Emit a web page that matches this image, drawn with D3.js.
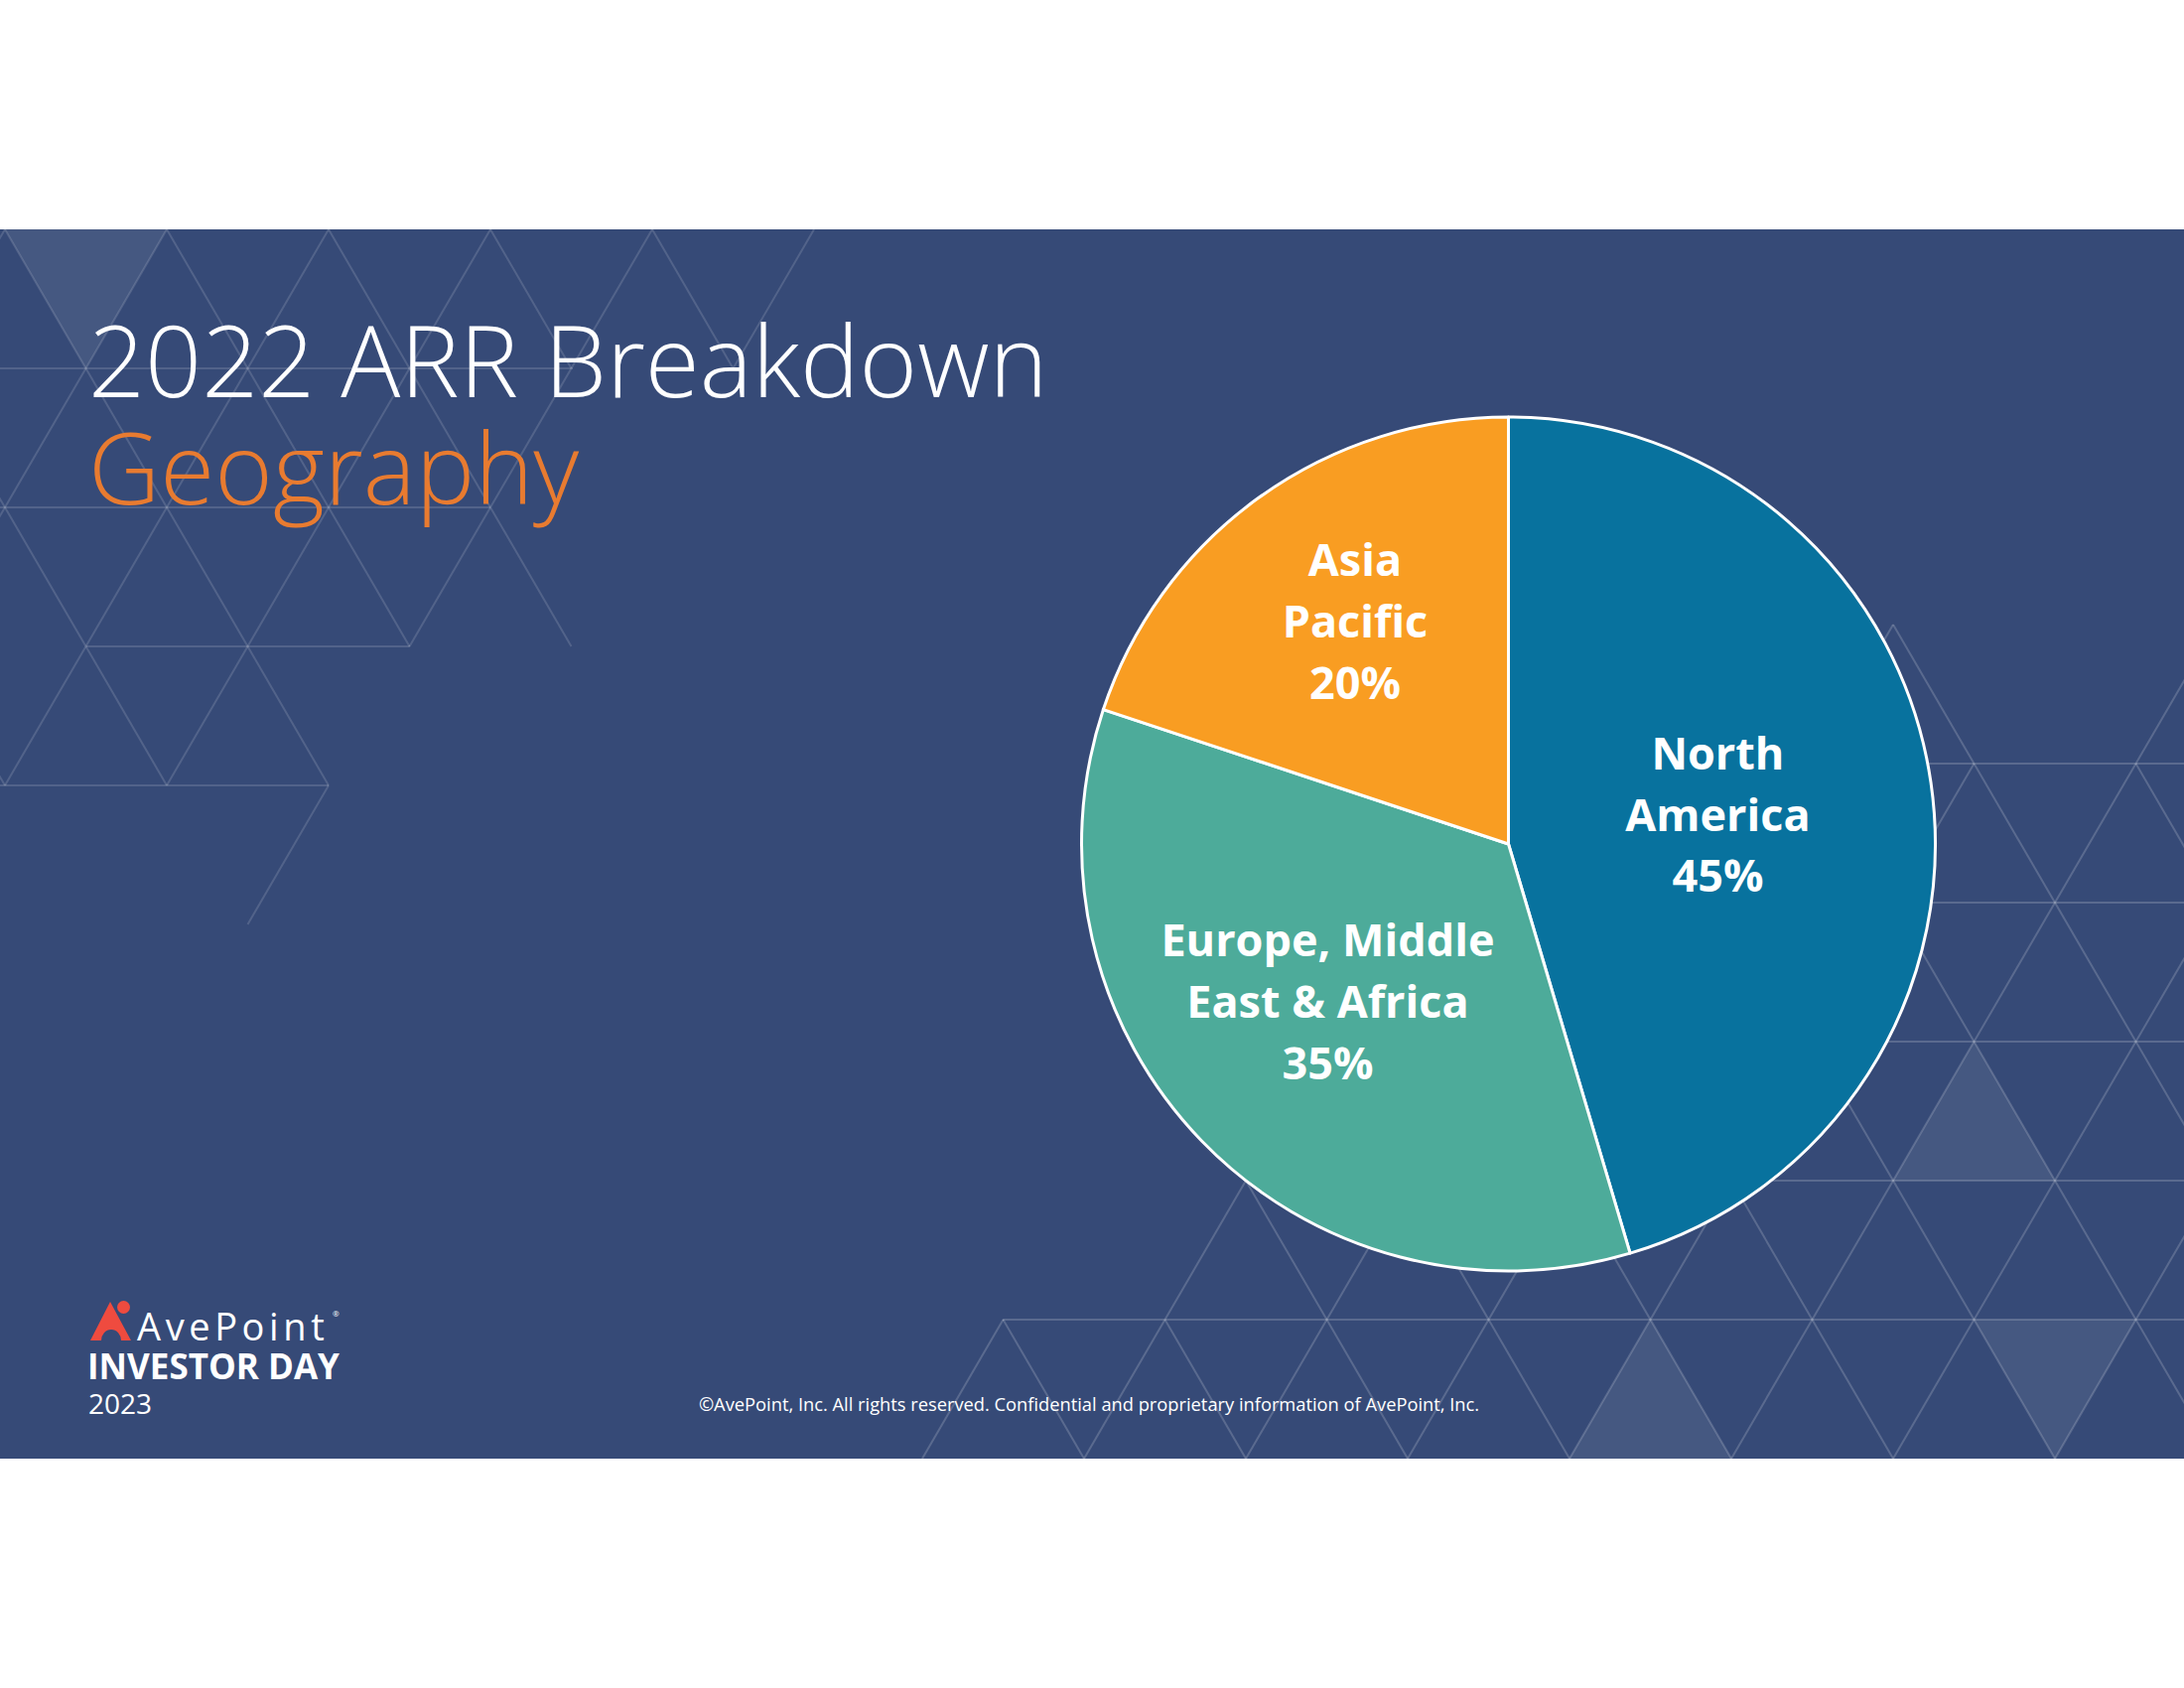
<!DOCTYPE html>
<html>
<head>
<meta charset="utf-8">
<script src="https://cdn.jsdelivr.net/npm/d3@7"></script>
<style>
  html, body { margin: 0; padding: 0; background: #ffffff; }
  svg { display: block; }
</style>
</head>
<body>
<svg id="chart" width="2200" height="1700"></svg>
<script>
// ---------------- DATA ----------------
const categories = ["North America", "Europe, Middle East & Africa", "Asia Pacific"];
const labelLines = [["North", "America"], ["Europe, Middle", "East & Africa"], ["Asia", "Pacific"]];
const shares = [45.4, 34.7, 19.9];   // labels show rounded values
const titleLine1 = "2022 ARR Breakdown";
const titleLine2 = "Geography";
const footerText = "\u00A9AvePoint, Inc. All rights reserved. Confidential and proprietary information of AvePoint, Inc.";

// ---------------- STYLE / LAYOUT ----------------
const W = 2200, H = 1700;
const bandTop = 231, bandBottom = 1469;
const bandColor = "#364A77";
const sliceColors = ["#08729E", "#4DAB9A", "#F99D22"];
const pieCx = 1519.5, pieCy = 850, pieR = 430;
// label placement: radius from centre and angular nudge (degrees)
const labelPlace = [{ r: 213, da: 0.3 }, { r: 242, da: 2.9 }, { r: 272, da: 1.2 }];
const labelFont = 45, labelLineGap = 62;

const svg = d3.select("#chart");

svg.append("rect").attr("x", 0).attr("y", 0).attr("width", W).attr("height", H).attr("fill", "#ffffff");
svg.append("rect").attr("x", 0).attr("y", bandTop).attr("width", W).attr("height", bandBottom - bandTop).attr("fill", bandColor);

// ---------------- decorative triangle lattice ----------------
svg.append("defs").append("clipPath").attr("id", "bandClip")
  .append("rect").attr("x", 0).attr("y", bandTop).attr("width", W).attr("height", bandBottom - bandTop);
const deco = svg.append("g").attr("clip-path", "url(#bandClip)");

const S = 163, TH = 140;
function lattice(cfg) {
  const vx = (r, k) => cfg.x0 + k * S + (r % 2 ? S / 2 : 0);
  const vy = r => cfg.y0 + r * TH;
  const segs = [];
  cfg.hRanges.forEach((rg, r) => {
    if (!rg) return;
    segs.push([rg[0], vy(r), rg[1], vy(r)]);
  });
  cfg.bandRanges.forEach((rgs, r) => {
    if (!rgs) return;
    for (let k = -2; k < 16; k++) {
      const x = vx(r, k), y = vy(r);
      [x - S / 2, x + S / 2].forEach(x2 => {
        const ok = rgs.some(rg => x >= rg[0] && x <= rg[1] && x2 >= rg[0] && x2 <= rg[1]);
        if (ok) segs.push([x, y, x2, y + TH]);
      });
    }
  });
  const g = deco.append("g");
  g.selectAll("polygon").data(cfg.fills).join("polygon")
    .attr("points", d => d.map(p => p.join(",")).join(" "))
    .attr("fill", "rgba(255,255,255," + cfg.fillOp + ")");
  g.selectAll("line").data(segs).join("line")
    .attr("x1", d => d[0]).attr("y1", d => d[1]).attr("x2", d => d[2]).attr("y2", d => d[3])
    .attr("stroke", "rgba(255,255,255," + cfg.lineOp + ")").attr("stroke-width", 2);
}

lattice({
  x0: 5, y0: 231,
  hRanges: [null, [0, 577], [0, 494], [87, 413], [0, 331]],
  bandRanges: [[[-100, 830]], [[-100, 590]], [[-100, 590]], [[-100, 340]], [[245, 340]]],
  fills: [[[5, 231], [168, 231], [86.5, 371]]],
  lineOp: 0.14, fillOp: 0.08
});
lattice({
  x0: 114, y0: 629,
  hRanges: [null, [1700, 2200], [1700, 2200], [1500, 2200], [1256, 2200], [1010, 2200], null],
  bandRanges: [[[1820, 1990], [2150, 2300]], [[1700, 2300]], [[1700, 2300]], [[1500, 2300]], [[1170, 2300]], [[925, 2300]]],
  fills: [
    [[1988.5, 1049], [1907, 1189], [2070, 1189]],
    [[1988.5, 1329], [2151.5, 1329], [2070, 1469]],
    [[1662.5, 1329], [1581, 1469], [1744, 1469]]
  ],
  lineOp: 0.18, fillOp: 0.08
});

// ---------------- title ----------------
svg.append("text").attr("x", 89).attr("y", 400)
  .attr("font-family", "'Open Sans', sans-serif").attr("font-weight", 300)
  .attr("font-size", 100).attr("fill", "#ffffff").text(titleLine1);
svg.append("text").attr("x", 89).attr("y", 508)
  .attr("font-family", "'Open Sans', sans-serif").attr("font-weight", 300)
  .attr("font-size", 100).attr("fill", "#E87B30").text(titleLine2);

// ---------------- pie ----------------
const pie = d3.pie().sort(null).value(d => d);
const arcs = pie(shares);
const arc = d3.arc().innerRadius(0).outerRadius(pieR);
const pg = svg.append("g").attr("transform", `translate(${pieCx},${pieCy})`);
pg.selectAll("path").data(arcs).join("path")
  .attr("d", arc)
  .attr("fill", (d, i) => sliceColors[i])
  .attr("stroke", "#ffffff").attr("stroke-width", 3).attr("stroke-linejoin", "round");

const lg = pg.append("g")
  .attr("font-family", "'Open Sans', sans-serif").attr("font-weight", 700)
  .attr("font-size", labelFont).attr("fill", "#ffffff").attr("text-anchor", "middle");
arcs.forEach((d, i) => {
  const mid = (d.startAngle + d.endAngle) / 2 + labelPlace[i].da * Math.PI / 180;
  const cx = labelPlace[i].r * Math.sin(mid);
  const cy = -labelPlace[i].r * Math.cos(mid);
  const lines = labelLines[i].concat([d3.format(".0f")(shares[i]) + "%"]);
  const t = lg.append("text").attr("data-category", categories[i]);
  lines.forEach((ln, j) => {
    t.append("tspan").attr("x", cx)
      .attr("y", cy + (j - 1) * labelLineGap + labelFont * 0.357)
      .text(ln);
  });
});

// ---------------- logo / footer ----------------
const logo = svg.append("g");
logo.append("path")
  .attr("d", "M91,1350 L111,1311 L132,1350 L122,1350 A10,11 0 0 0 102,1350 Z")
  .attr("fill", "#EF4B3F");
logo.append("circle").attr("cx", 124.5).attr("cy", 1316.5).attr("r", 6.5).attr("fill", "#EF4B3F");
logo.append("text").attr("x", 138).attr("y", 1350)
  .attr("font-family", "'Open Sans', sans-serif").attr("font-weight", 400)
  .attr("font-size", 38).attr("letter-spacing", 4.6).attr("fill", "#ffffff").text("AvePoint");
logo.append("text").attr("x", 335).attr("y", 1326)
  .attr("font-family", "'Open Sans', sans-serif").attr("font-size", 8).attr("fill", "#ffffff").text("\u00AE");
logo.append("text").attr("x", 88).attr("y", 1389)
  .attr("font-family", "'Open Sans', sans-serif").attr("font-weight", 700)
  .attr("font-size", 35).attr("fill", "#ffffff").text("INVESTOR DAY");
logo.append("text").attr("x", 89).attr("y", 1424)
  .attr("font-family", "'Open Sans', sans-serif").attr("font-weight", 400)
  .attr("font-size", 28).attr("fill", "#ffffff").text("2023");

svg.append("text").attr("x", 1097).attr("y", 1421).attr("text-anchor", "middle")
  .attr("font-family", "'Open Sans', sans-serif").attr("font-weight", 400)
  .attr("font-size", 18.3).attr("fill", "#ffffff").text(footerText);
</script>
</body>
</html>
